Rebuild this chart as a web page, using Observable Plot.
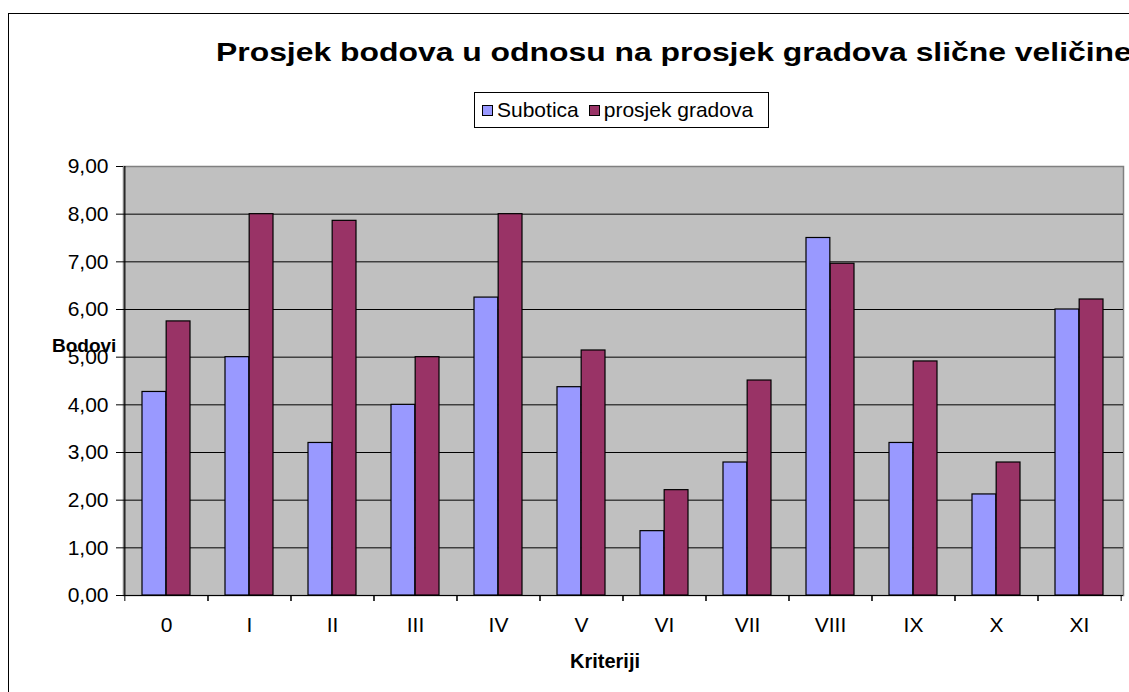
<!DOCTYPE html>
<html>
<head>
<meta charset="utf-8">
<script src="https://cdn.jsdelivr.net/npm/d3@7"></script>
<script src="https://cdn.jsdelivr.net/npm/@observablehq/plot@0.6"></script>
<style>
  html, body { margin: 0; padding: 0; background: #fff; }
  #wrap { position: relative; width: 1129px; height: 692px; overflow: hidden; font-family: "Liberation Sans", Arial, sans-serif; }
  #border { position: absolute; left: 8px; top: 13px; width: 1200px; height: 800px; border: 1.5px solid #000; box-sizing: border-box; }
  #title { position: absolute; left: 216px; top: 40px; font-size: 25.5px; font-weight: bold; white-space: nowrap; transform: scaleX(1.25); transform-origin: left top; line-height: 1; color: #000; }
  #legend { position: absolute; left: 474px; top: 92px; width: 295px; height: 36px; border: 1px solid #000; box-sizing: border-box; background: #fff; display: flex; align-items: center; padding-left: 7px; font-size: 21px; white-space: nowrap; }
  .sw { display: inline-block; width: 11px; height: 11px; border: 1px solid #000; box-sizing: border-box; margin-right: 4px; }
  .item { display: inline-flex; align-items: center; margin-right: 10px; }
  #ylabel { position: absolute; left: 52px; top: 336px; font-size: 19px; font-weight: bold; line-height: 1; }
  #xlabel { position: absolute; left: 570px; top: 651px; font-size: 20px; font-weight: bold; line-height: 1; }
  #chart { position: absolute; left: 0; top: 140px; }
  #chart svg { font-family: "Liberation Sans", Arial, sans-serif; }
  #chart svg text { font-size: 21px; }
</style>
</head>
<body>
<div id="wrap">
  <div id="border"></div>
  <div id="chart"></div>
  <div id="title">Prosjek bodova u odnosu na prosjek gradova slične veličine</div>
  <div id="legend"></div>
  <div id="ylabel">Bodovi</div>
  <div id="xlabel">Kriteriji</div>
</div>
<script>
const categories = ["0", "I", "II", "III", "IV", "V", "VI", "VII", "VIII", "IX", "X", "XI"];
const seriesNames = ["Subotica", "prosjek gradova"];
const subotica = [4.27, 5.00, 3.20, 4.00, 6.25, 4.37, 1.35, 2.79, 7.50, 3.20, 2.12, 6.00];
const prosjekGradova = [5.75, 8.00, 7.86, 5.00, 8.00, 5.14, 2.21, 4.51, 6.96, 4.91, 2.79, 6.21];
const seriesColors = ["#9999FF", "#993366"];
const yTicks = [0, 1, 2, 3, 4, 5, 6, 7, 8, 9];

const rows1 = categories.map((c, i) => ({cat: c, value: subotica[i]}));
const rows2 = categories.map((c, i) => ({cat: c, value: prosjekGradova[i]}));

const W = 1129, H = 552;
const mL = 123, mR = 6, mT = 26, mB = 97;
const pInner = 0.42, pOuter = 0.21;
const step = (W - mL - mR) / categories.length;
const bw = step * (1 - pInner);
const half = bw / 2;
const fmt = d => d3.format(".2f")(d).replace(".", ",");

const chart = Plot.plot({
  width: W, height: H,
  marginLeft: mL, marginRight: mR, marginTop: mT, marginBottom: mB,
  style: {fontFamily: "Liberation Sans, Arial, sans-serif", fontSize: "21px", color: "#000", background: "transparent"},
  x: {domain: categories, paddingInner: pInner, paddingOuter: pOuter, label: null},
  y: {domain: [0, 9], label: null},
  marks: [
    Plot.frame({fill: "#C0C0C0", stroke: "#808080", strokeWidth: 1.5}),
    Plot.gridY(yTicks.slice(1, -1), {stroke: "#000", strokeOpacity: 1, strokeWidth: 1}),
    Plot.barY(rows1, {x: "cat", y: "value", fill: seriesColors[0], stroke: "#000", strokeWidth: 1.2, insetRight: half}),
    Plot.barY(rows2, {x: "cat", y: "value", fill: seriesColors[1], stroke: "#000", strokeWidth: 1.2, insetLeft: half}),
    Plot.ruleY([0], {stroke: "#000", strokeWidth: 1.2}),
    Plot.ruleX([categories[0]], {stroke: "#000", strokeWidth: 1.2, dx: -step / 2}),
    Plot.axisY({ticks: yTicks, tickFormat: fmt, tickSize: 7, tickPadding: 8, label: null, stroke: "#000"}),
    Plot.axisX({tickSize: 0, tickPadding: 22, label: null}),
    Plot.axisX({tickSize: 6, tickFormat: () => "", label: null, dx: -step / 2, stroke: "#000"}),
    Plot.axisX({tickSize: 6, tickFormat: () => "", label: null, dx: step / 2, stroke: "#000"})
  ]
});
document.getElementById("chart").appendChild(chart);

const legend = document.getElementById("legend");
seriesNames.forEach((n, i) => {
  const item = document.createElement("span");
  item.className = "item";
  const sw = document.createElement("span");
  sw.className = "sw";
  sw.style.background = seriesColors[i];
  item.appendChild(sw);
  item.appendChild(document.createTextNode(n));
  legend.appendChild(item);
});
</script>
</body>
</html>
